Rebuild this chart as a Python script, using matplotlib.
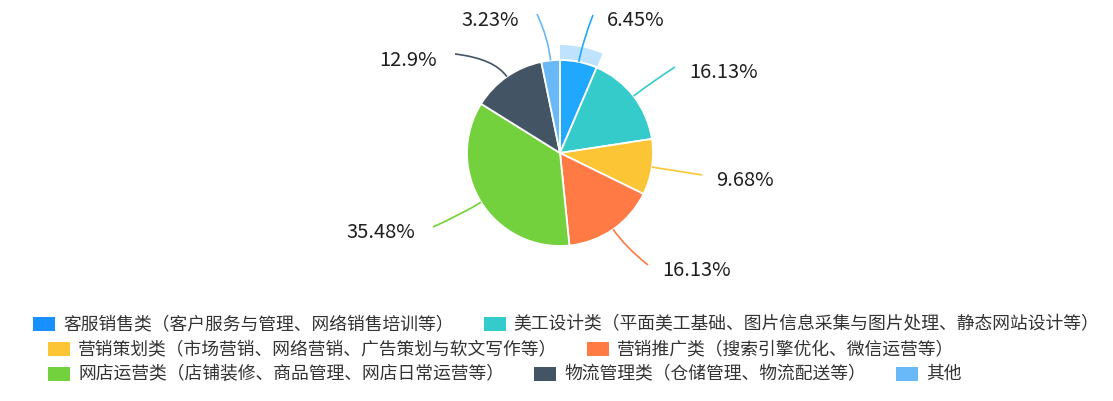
import matplotlib
matplotlib.use("Agg")
import matplotlib.pyplot as plt
from matplotlib.path import Path
from matplotlib.patches import PathPatch, Wedge, Rectangle
import numpy as np

plt.rcParams['font.family'] = ['Noto Sans CJK SC', 'DejaVu Sans']

# ---- data ----
categories = [
    "客服销售类（客户服务与管理、网络销售培训等）",
    "美工设计类（平面美工基础、图片信息采集与图片处理、静态网站设计等）",
    "营销策划类（市场营销、网络营销、广告策划与软文写作等）",
    "营销推广类（搜索引擎优化、微信运营等）",
    "网店运营类（店铺装修、商品管理、网店日常运营等）",
    "物流管理类（仓储管理、物流配送等）",
    "其他",
]
counts = [2, 5, 3, 5, 11, 4, 1]
colors = ["#1890ff", "#36cbcb", "#fbc535", "#ff7a45", "#73d13d", "#435464", "#69b8f8"]
slice_colors = ["#20a8ff", "#36cbcb", "#fbc535", "#ff7a45", "#73d13d", "#435464", "#69b8f8"]

W, H = 1113, 401
fig = plt.figure(figsize=(W / 100, H / 100), dpi=100)
ax = fig.add_axes([0, 0, 1, 1])


def Y(y):
    return H - y


cx, cy, R = 560, 153, 93
total = sum(counts)
wedges, _ = ax.pie(counts, colors=slice_colors, startangle=90, counterclock=False,
                   center=(cx, Y(cy)), radius=R, frame=True,
                   wedgeprops=dict(edgecolor="white", linewidth=1.3))
ax.set_xlim(0, W)
ax.set_ylim(0, H)
ax.set_aspect("equal")
ax.axis("off")

# emphasis ring on first slice
w0 = wedges[0]
ax.add_patch(Wedge((cx, Y(cy)), R + 15, w0.theta1, w0.theta2, width=14,
                   facecolor="#bfe3ff", edgecolor="none", zorder=0.5))

# label line end points (pixel coords, y down) and side
ends = [(593, 15), (675, 67), (702, 175), (648, 265), (433, 227), (455, 54), (537, 14)]
sides = [1, 1, 1, 1, -1, -1, -1]

for i, w in enumerate(wedges):
    th = np.deg2rad((w.theta1 + w.theta2) / 2)
    p0 = (cx + R * np.cos(th), Y(cy) + R * np.sin(th))
    L = 22
    p1 = (cx + (R + L) * np.cos(th), Y(cy) + (R + L) * np.sin(th))
    ex, ey = ends[i]
    p2 = (ex, Y(ey))
    path = Path([p0, p1, p2], [Path.MOVETO, Path.CURVE3, Path.CURVE3])
    ax.add_patch(PathPatch(path, facecolor="none", edgecolor=slice_colors[i], lw=1.2))
    pct = round(counts[i] / total * 100, 2)
    txt = f"{pct:g}%"
    if sides[i] > 0:
        ax.text(ex + 14, Y(ey + 6), txt, ha="left", va="center", fontsize=14.5, color="#1f1f1f")
    else:
        ax.text(ex - 18, Y(ey + 6), txt, ha="right", va="center", fontsize=14.5, color="#1f1f1f")

# legend
rows = [[0, 1], [2, 3], [4, 5, 6]]
row_y = [324, 349, 374]
row_x = [33, 48, 48]
fig.canvas.draw()
renderer = fig.canvas.get_renderer()
for r, items in enumerate(rows):
    x = row_x[r]
    y = row_y[r]
    for i in items:
        ax.add_patch(Rectangle((x, Y(y) - 7), 22, 14, facecolor=colors[i], edgecolor="none"))
        t = ax.text(x + 30, Y(y), categories[i], ha="left", va="center", fontsize=12.8, color="#333333")
        bb = t.get_window_extent(renderer)
        x = x + 30 + bb.width + 30

fig.savefig("out.png", dpi=100)
